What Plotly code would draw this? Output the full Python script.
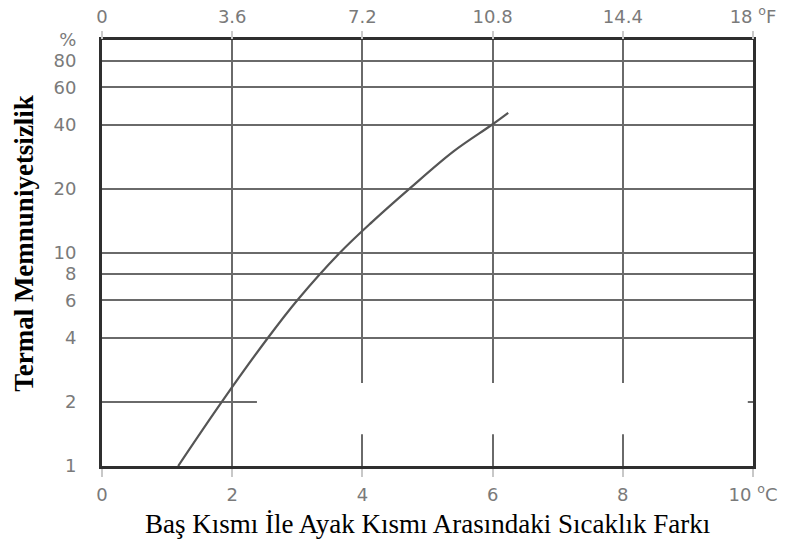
import plotly.graph_objects as go

# Temperature difference between head and ankle (°C) and percentage dissatisfied
delta_c = [1.17, 1.84, 2.55, 3.0, 3.65, 4.15, 4.72, 5.4, 5.99, 6.24]
dissatisfied = [1.0, 2.0, 4.0, 6.0, 10.0, 14.0, 20.0, 30.0, 40.0, 45.5]

c_ticks = [0, 2, 4, 6, 8, 10]
c_labels = ["0", "2", "4", "6", "8", "10 <sup>o</sup>C"]
f_ticks = [0, 3.6, 7.2, 10.8, 14.4, 18]
f_labels = ["0", "3.6", "7.2", "10.8", "14.4", "18 <sup>o</sup>F"]
pct_ticks = [1, 2, 4, 6, 8, 10, 20, 40, 60, 80, 100]
pct_labels = ["1", "2", "4", "6", "8", "10", "20", "40", "60", "80", "%"]

tick_font = dict(family="DejaVu Sans", size=18, color="#7a7a7a")
grid_col = "#6a6a6a"

fig = go.Figure()
fig.add_trace(go.Scatter(
    x=delta_c, y=dissatisfied, mode="lines",
    line=dict(color="#555555", width=2.2, shape="spline", smoothing=1.0),
    hoverinfo="skip", showlegend=False,
))
# Fahrenheit scale on the top edge (empty trace so the axis is drawn)
fig.add_trace(go.Scatter(
    x=[f_ticks[0], f_ticks[-1]], y=[None, None], xaxis="x2", yaxis="y",
    mode="lines", hoverinfo="skip", showlegend=False,
))

fig.update_layout(
    width=800, height=555,
    margin=dict(l=102, r=47, t=40, b=89, autoexpand=False),
    paper_bgcolor="white", plot_bgcolor="white",
    showlegend=False,
    xaxis=dict(
        range=[0, 10], tickvals=c_ticks, ticktext=c_labels, automargin=False,
        showgrid=True, gridcolor=grid_col, gridwidth=2,
        showline=True, linecolor="#2f2f2f", linewidth=3, mirror=True,
        ticks="outside", ticklen=8, tickcolor="#c8c8c8", tickwidth=2,
        ticklabelstandoff=2, tickfont=tick_font, zeroline=False,
    ),
    xaxis2=dict(
        range=[0, 18], overlaying="x", side="top", anchor="y", automargin=False,
        tickvals=f_ticks, ticktext=f_labels,
        showgrid=False, showline=False, zeroline=False,
        ticks="outside", ticklen=8, tickcolor="#c8c8c8", tickwidth=2,
        ticklabelstandoff=1, tickfont=tick_font,
    ),
    yaxis=dict(
        type="log", range=[0, 2], tickvals=pct_ticks, ticktext=pct_labels,
        automargin=False,
        showgrid=True, gridcolor=grid_col, gridwidth=2,
        showline=True, linecolor="#2f2f2f", linewidth=3, mirror=True,
        ticks="", ticklabelstandoff=19, tickfont=tick_font, zeroline=False,
    ),
    shapes=[dict(
        type="rect", xref="x", yref="y", layer="above",
        x0=2.38, x1=9.92, y0=1.41, y1=2.45,
        fillcolor="white", line=dict(width=0),
    )],
    annotations=[
        dict(text="Baş Kısmı İle Ayak Kısmı Arasındaki Sıcaklık Farkı",
             xref="paper", yref="paper", x=0.5, y=-0.135,
             xanchor="center", yanchor="middle", showarrow=False,
             font=dict(family="Liberation Serif", size=27, color="black")),
        dict(text="<b>Termal Memnuniyetsizlik</b>",
             xref="paper", yref="paper", x=-0.121, y=0.522, textangle=-90,
             xanchor="center", yanchor="middle", showarrow=False,
             font=dict(family="Liberation Serif", size=27, color="black")),
    ],
)

fig.write_html("out.html")
